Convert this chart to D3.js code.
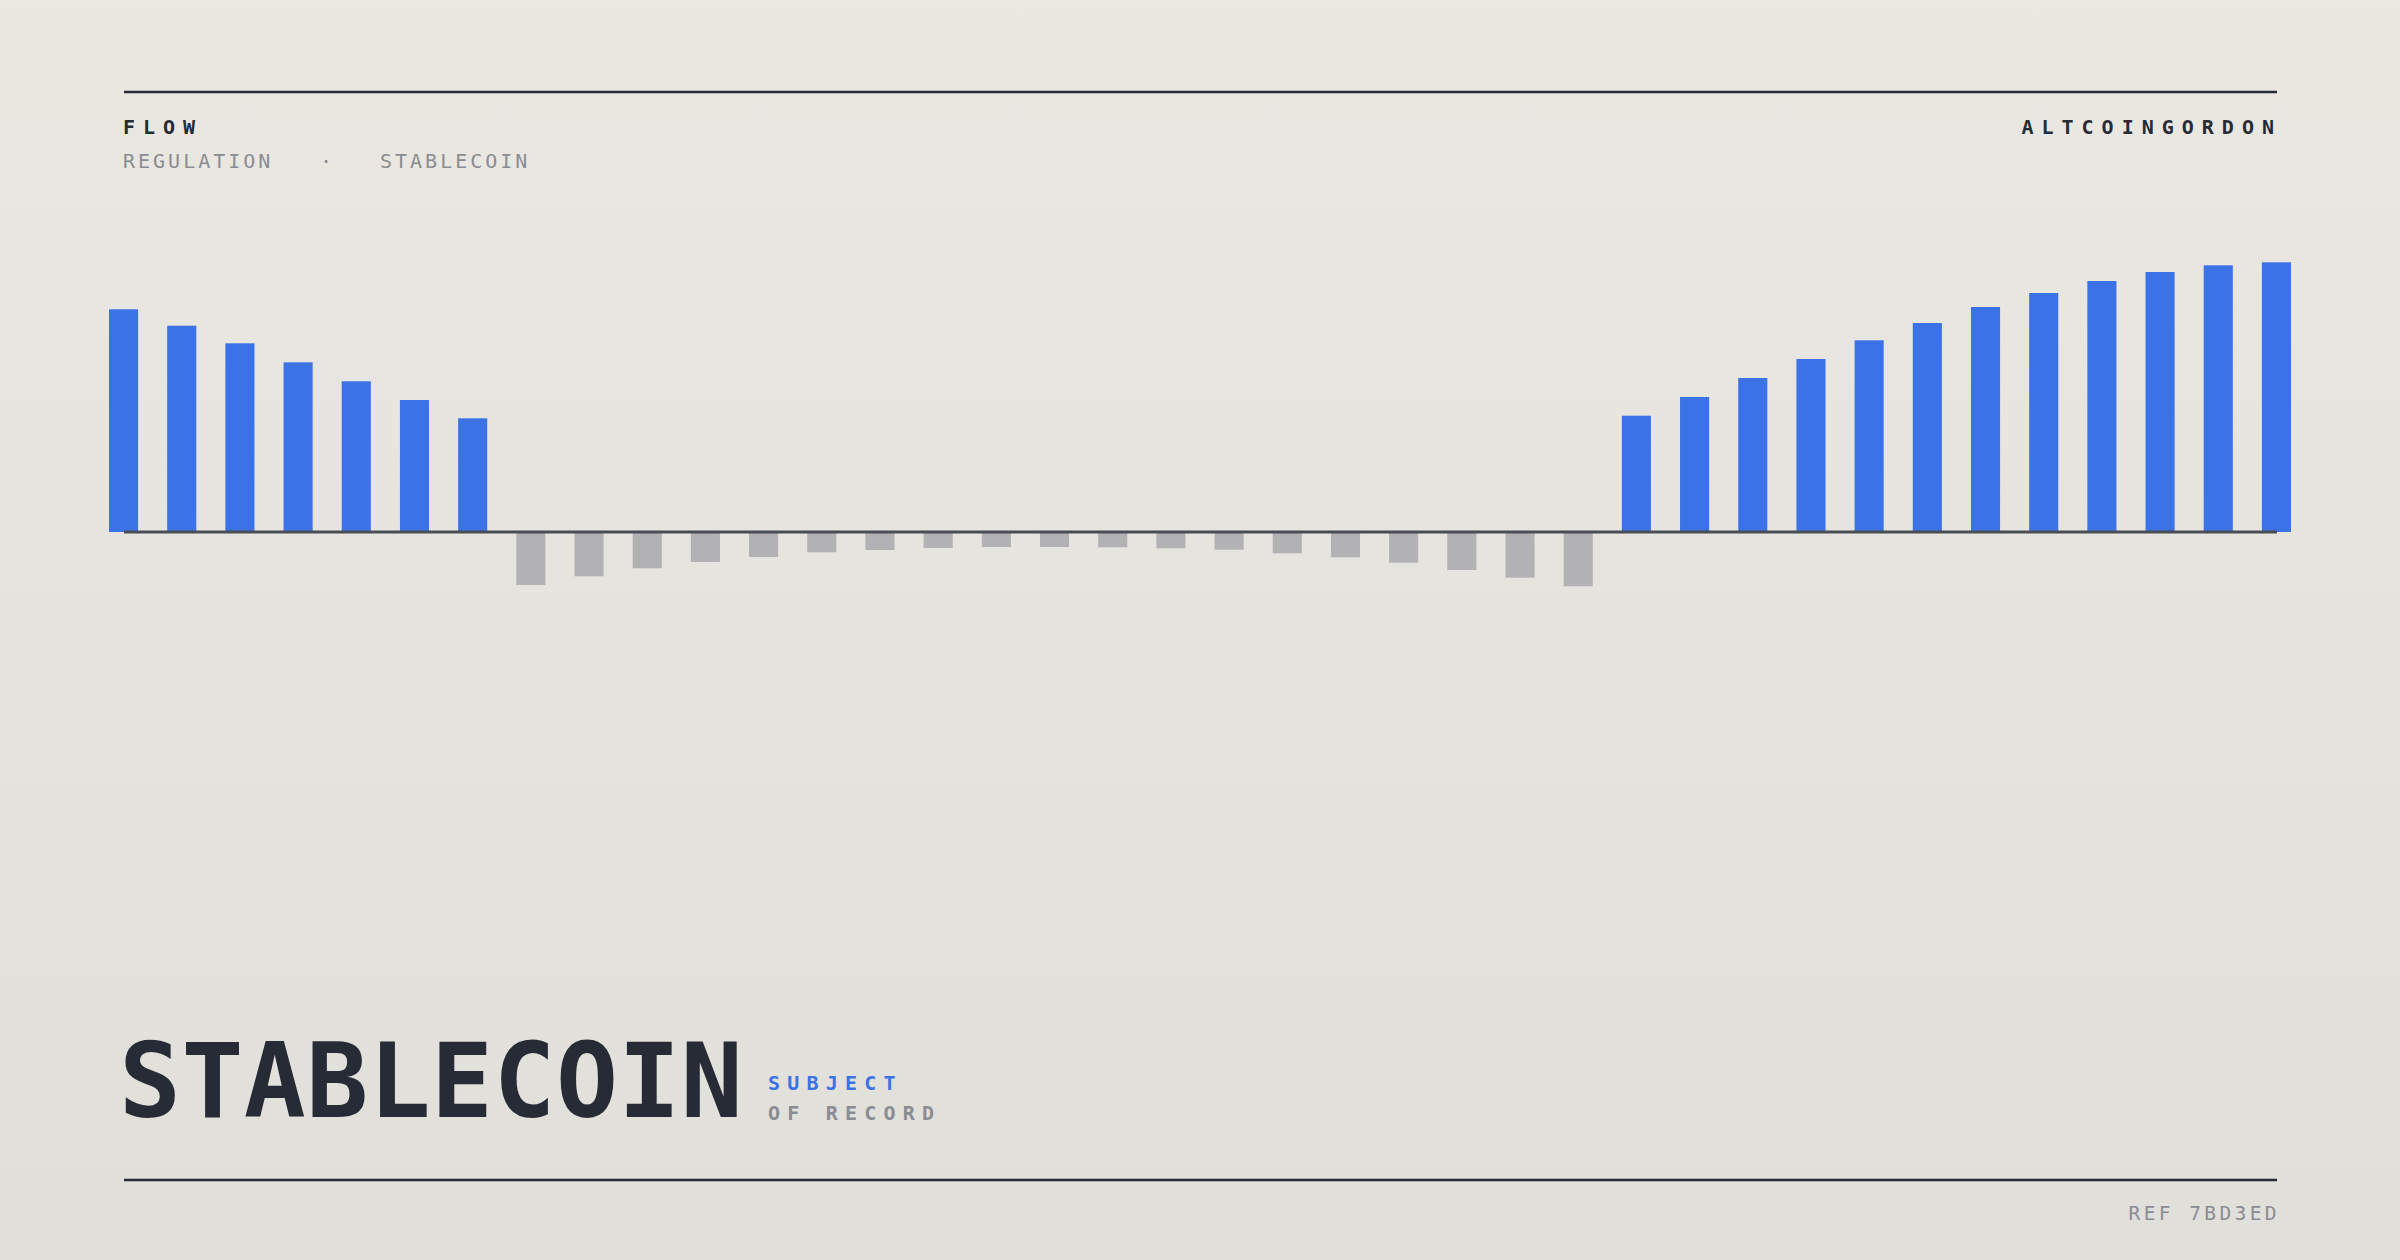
<!DOCTYPE html>
<html>
<head>
<meta charset="utf-8">
<script src="https://cdn.jsdelivr.net/npm/d3@7"></script>
<style>
html,body{margin:0;padding:0;}
body{width:2400px;height:1260px;overflow:hidden;}
svg{display:block;}
</style>
</head>
<body>
<svg id="chart" width="2400" height="1260"></svg>
<script>
// ---- data ----
const categories = d3.range(1, 39).map(i => "P" + String(i).padStart(2, "0"));
const leftInflow = [222.7, 206.3, 188.7, 169.7, 150.7, 132, 113.7];
const outflow = [-53, -44.3, -36.3, -30, -25, -20.3, -18, -16, -15, -15, -15.3, -16.3, -17.7, -21.3, -25.3, -30.7, -38, -45.7, -54.3];
const rightInflow = [116.3, 135, 154, 173, 191.7, 209, 225, 239, 251, 260, 266.7, 269.7];
const values = leftInflow.concat(outflow, rightInflow);

const headerLeft = "FLOW";
const headerRight = "ALTCOINGORDON";
const subtitleParts = ["REGULATION", "·", "STABLECOIN"];
const titleText = "STABLECOIN";
const tagTop = "SUBJECT";
const tagBottom = "OF RECORD";
const refText = "REF 7BD3ED";

// ---- drawing ----
const W = 2400, H = 1260;
const svg = d3.select("#chart");
const FONT = "'DejaVu Sans Mono', 'Liberation Mono', monospace";
const INK = "#272b36";
const BLUE = "#3b73e6";
const GREY = "#b2b2b4";
const MUTED = "#8a8c93";

const defs = svg.append("defs");
const grad = defs.append("linearGradient").attr("id", "bg").attr("x1", 0).attr("y1", 0).attr("x2", 0).attr("y2", 1);
grad.append("stop").attr("offset", "0%").attr("stop-color", "#ebe8e2");
grad.append("stop").attr("offset", "100%").attr("stop-color", "#e0dfda");
svg.append("rect").attr("width", W).attr("height", H).attr("fill", "url(#bg)");

const x = d3.scaleBand().domain(categories).range([109, 2291]).paddingInner(0.5).paddingOuter(0);
const y = d3.scaleLinear().domain([-100, 300]).range([632, 232]);

svg.append("g").selectAll("rect").data(values).join("rect")
  .attr("x", (d, i) => x(categories[i]))
  .attr("width", x.bandwidth())
  .attr("y", d => d >= 0 ? y(d) : y(0))
  .attr("height", d => Math.abs(y(d) - y(0)))
  .attr("fill", d => d >= 0 ? BLUE : GREY);

// baseline
svg.append("line").attr("x1", 124).attr("x2", 2277).attr("y1", y(0)).attr("y2", y(0))
  .attr("stroke", "#4b4d54").attr("stroke-width", 3);

// rules
svg.append("line").attr("x1", 124).attr("x2", 2277).attr("y1", 92).attr("y2", 92)
  .attr("stroke", INK).attr("stroke-width", 2.5);
svg.append("line").attr("x1", 124).attr("x2", 2277).attr("y1", 1180).attr("y2", 1180)
  .attr("stroke", INK).attr("stroke-width", 2.5);

// header
svg.append("text").attr("x", 123).attr("y", 134).text(headerLeft)
  .attr("font-family", FONT).attr("font-weight", 700).attr("font-size", 20)
  .attr("letter-spacing", 8).attr("fill", INK);
svg.append("text").attr("x", 2282).attr("y", 134).attr("text-anchor", "end").text(headerRight)
  .attr("font-family", FONT).attr("font-weight", 700).attr("font-size", 20)
  .attr("letter-spacing", 8).attr("fill", INK);

const subX = [123, 320, 380];
subtitleParts.forEach((t, i) => {
  svg.append("text").attr("x", subX[i]).attr("y", 168).text(t)
    .attr("font-family", FONT).attr("font-weight", 400).attr("font-size", 20)
    .attr("letter-spacing", 3.0).attr("fill", MUTED);
});

// title
svg.append("text").attr("x", 119).attr("y", 1117).text(titleText)
  .attr("font-family", FONT).attr("font-weight", 700).attr("font-size", 103)
  .attr("letter-spacing", 0.4).attr("fill", INK);
svg.append("text").attr("x", 768).attr("y", 1090).text(tagTop)
  .attr("font-family", FONT).attr("font-weight", 700).attr("font-size", 20)
  .attr("letter-spacing", 7.2).attr("fill", BLUE);
svg.append("text").attr("x", 768).attr("y", 1120).text(tagBottom)
  .attr("font-family", FONT).attr("font-weight", 700).attr("font-size", 20)
  .attr("letter-spacing", 7.2).attr("fill", MUTED);

// footer
svg.append("text").attr("x", 2280).attr("y", 1220).attr("text-anchor", "end").text(refText)
  .attr("font-family", FONT).attr("font-weight", 400).attr("font-size", 19.5)
  .attr("letter-spacing", 3.4).attr("fill", MUTED);
</script>
</body>
</html>
